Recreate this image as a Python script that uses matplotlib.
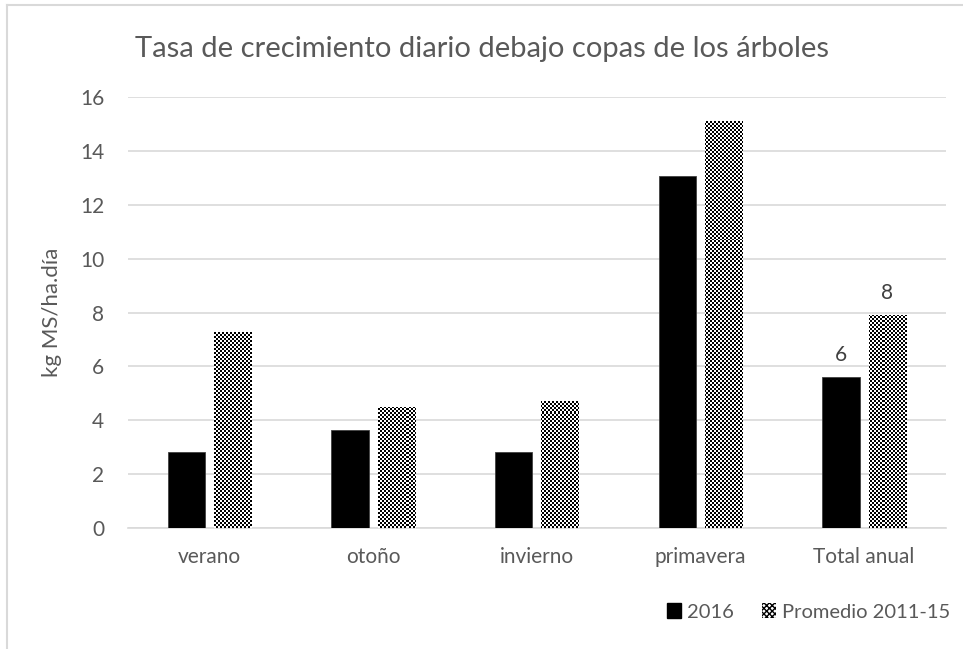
import numpy as np
import matplotlib
matplotlib.use("Agg")
import matplotlib.pyplot as plt
from matplotlib.patches import Patch
from matplotlib.lines import Line2D

categories = ["verano", "otoño", "invierno", "primavera", "Total anual"]
val_2016 = [2.83, 3.65, 2.82, 13.06, 5.59]
val_prom = [7.29, 4.48, 4.72, 15.1, 7.92]
label_idx = 4  # only Total anual carries data labels

plt.rcParams["font.family"] = ["Lato", "DejaVu Sans"]
txt = "#595959"
grid = "#d9d9d9"

fig = plt.figure(figsize=(9.63, 6.49), dpi=100)
ax = fig.add_axes([0.1329, 0.1864, 0.8494, 0.6641])

x = np.arange(len(categories))
w = 0.229
off = 0.142
b1 = ax.bar(x - off, val_2016, w, color="black", edgecolor="#404040", linewidth=0.6, zorder=3)
b2 = ax.bar(x + off, val_prom, w, facecolor="none", edgecolor="none", zorder=3)

# checkerboard fill for the average series
ny, nx = 216, 409
checker = (np.indices((ny, nx)).sum(axis=0) % 2).astype(float)
for bar in b2:
    im = ax.imshow(checker, cmap="gray", extent=(-0.5, len(categories) - 0.5, 0, 16),
                   aspect="auto", interpolation="nearest", zorder=3, origin="lower")
    im.set_clip_path(bar)
ax.set_xlim(-0.5, len(categories) - 0.5)
ax.set_ylim(0, 16)

ax.set_yticks(range(0, 17, 2))
ax.set_xticks(x)
ax.set_xticklabels(categories)
ax.tick_params(length=0, labelsize=15, colors=txt)
ax.tick_params(axis="x", pad=14)
ax.tick_params(axis="y", pad=17)
ax.yaxis.grid(True, color=grid, linewidth=1.2, zorder=0)
for s in ["top", "right", "left"]:
    ax.spines[s].set_visible(False)
ax.spines["bottom"].set_color(grid)
ax.spines["bottom"].set_linewidth(1.2)

ax.set_ylabel("kg MS/ha.día", fontsize=16, color=txt, labelpad=13)

ax.text(label_idx - off, val_2016[label_idx] + 0.45, f"{val_2016[label_idx]:.0f}",
        ha="center", va="bottom", fontsize=15, color="#404040")
ax.text(label_idx + off, val_prom[label_idx] + 0.45, f"{val_prom[label_idx]:.0f}",
        ha="center", va="bottom", fontsize=15, color="#404040")

fig.text(0.5, 0.925, "Tasa de crecimiento diario debajo copas de los árboles",
         ha="center", va="center", fontsize=21, color=txt)

handles = [Patch(facecolor="black", edgecolor="black"),
           Patch(facecolor="white", edgecolor="black", linewidth=0, hatch="xxxxxx")]
fig.legend(handles, ["2016", "Promedio 2011-15"], loc="center", bbox_to_anchor=(0.84, 0.057),
           ncol=2, frameon=False, fontsize=14.5, labelcolor=txt, handlelength=0.7,
           handleheight=0.7, handletextpad=0.3, columnspacing=1.4)

# chart border (left and top visible)
fig.add_artist(Line2D([0.0075, 0.0075], [0, 0.993], color=grid, linewidth=1.5))
fig.add_artist(Line2D([0.0075, 1], [0.993, 0.993], color=grid, linewidth=1.5))

fig.savefig("out.png", dpi=100)
